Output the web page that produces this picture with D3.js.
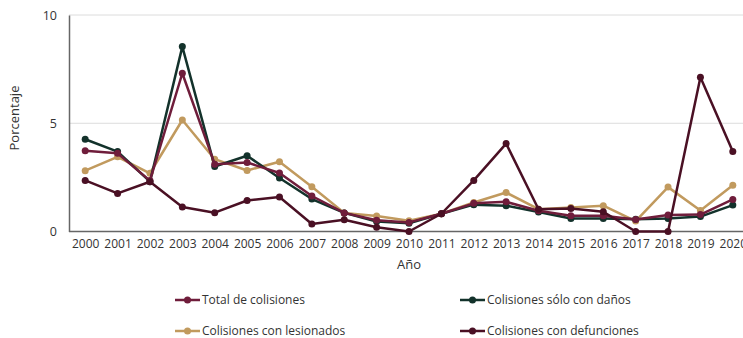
<!DOCTYPE html>
<html><head><meta charset="utf-8">
<script src="https://cdn.jsdelivr.net/npm/d3@7"></script>
<style>body{margin:0;background:#fff;} text{font-family:"Open Sans",sans-serif;fill:#333;}</style>
</head><body><svg id="c" width="743" height="338"></svg>
<script>
const years = ["2000","2001","2002","2003","2004","2005","2006","2007","2008","2009","2010","2011","2012","2013","2014","2015","2016","2017","2018","2019","2020"];
const total      = [3.73,3.61,2.35,7.31,3.11,3.19,2.70,1.64,0.86,0.52,0.42,0.82,1.30,1.37,0.96,0.73,0.73,0.55,0.76,0.78,1.48];
const danos      = [4.26,3.69,2.30,8.54,3.00,3.50,2.47,1.50,0.86,0.46,0.38,0.82,1.24,1.19,0.90,0.60,0.60,0.57,0.60,0.69,1.22];
const lesionados = [2.81,3.45,2.69,5.15,3.34,2.82,3.22,2.07,0.86,0.72,0.50,0.82,1.34,1.80,1.03,1.11,1.19,0.48,2.05,0.97,2.14];
const defunciones= [2.36,1.76,2.30,1.13,0.87,1.43,1.59,0.35,0.54,0.20,0.00,0.82,2.36,4.06,1.03,1.06,0.91,0.00,0.00,7.12,3.70];
const yTicks = [0,5,10];
const seriesNames = ["Total de colisiones","Colisiones sólo con daños","Colisiones con lesionados","Colisiones con defunciones"];
const seriesData = [total, danos, lesionados, defunciones];
const colors = ["#6f1d3b","#13322b","#c19a5e","#4a1024"];

const svg = d3.select("#c");
const x = d3.scalePoint().domain(years).range([69,749]).padding(0.5);
const y = d3.scaleLinear().domain([0,10]).range([231.5,15]);

svg.append("g").selectAll("line").data(yTicks.filter(d=>d>0)).join("line")
  .attr("x1",69).attr("x2",743).attr("y1",d=>y(d)).attr("y2",d=>y(d))
  .attr("stroke","#dcdcdc").attr("stroke-width",1);

const ya = svg.append("g").attr("transform","translate(69,0)")
  .call(d3.axisLeft(y).tickValues(yTicks).tickSize(0).tickPadding(12));
ya.select(".domain").attr("stroke","#666").attr("stroke-width",1.5);
ya.selectAll("text").style("font-size","12.5px").attr("fill","#333");

const xa = svg.append("g").attr("transform","translate(0,231.5)")
  .call(d3.axisBottom(x).tickSize(0).tickPadding(8));
xa.select(".domain").attr("stroke","#666").attr("stroke-width",1.5).attr("d","M69,0H743");
xa.selectAll("text").style("font-size","12px").attr("fill","#333");

svg.append("text").attr("x",409).attr("y",269).attr("text-anchor","middle").style("font-size","13px").text("Año");
svg.append("text").attr("transform","translate(19,118) rotate(-90)").attr("text-anchor","middle").style("font-size","13px").text("Porcentaje");

const order = [2,1,0,3];
const line = d3.line().x((d,i)=>x(years[i])).y(d=>y(d));
order.forEach(k=>{
  const g = svg.append("g");
  g.append("path").datum(seriesData[k]).attr("d",line).attr("fill","none")
   .attr("stroke",colors[k]).attr("stroke-width",2.5).attr("stroke-linejoin","round");
  g.selectAll("circle").data(seriesData[k]).join("circle")
   .attr("cx",(d,i)=>x(years[i])).attr("cy",d=>y(d)).attr("r",3.5).attr("fill",colors[k]);
});

const legPos = [[175,300],[460,300],[175,331],[460,331]];
[0,1,2,3].forEach((k,j)=>{
  const [lx,ly] = legPos[j];
  const g = svg.append("g").attr("transform",`translate(${lx},${ly})`);
  g.append("line").attr("x1",0).attr("x2",25).attr("y1",0).attr("y2",0).attr("stroke",colors[k]).attr("stroke-width",2.5);
  g.append("circle").attr("cx",12.5).attr("cy",0).attr("r",3.5).attr("fill",colors[k]);
  g.append("text").attr("x",27).attr("y",0).attr("dy","0.35em").style("font-size","12px").text(seriesNames[k]);
});
</script></body></html>
